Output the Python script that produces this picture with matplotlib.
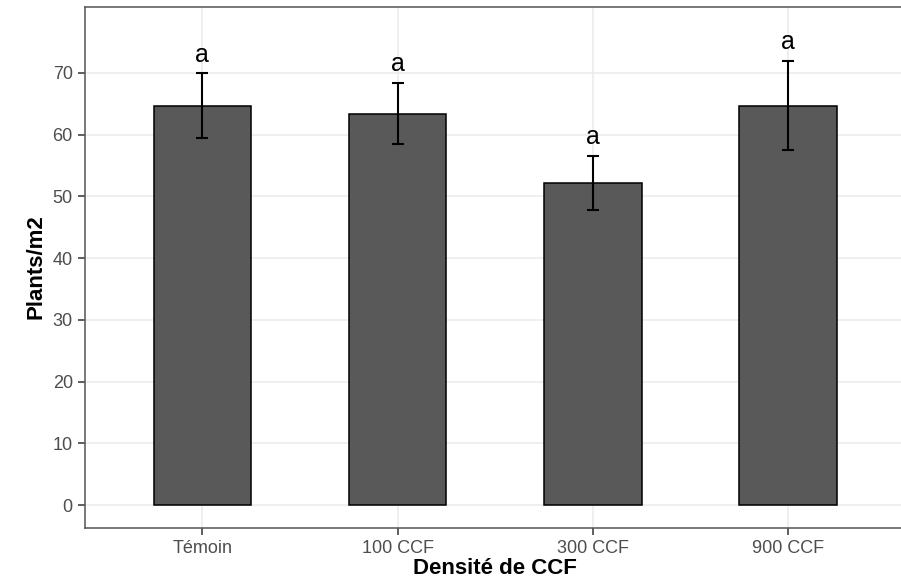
import matplotlib
matplotlib.use("Agg")
import matplotlib.pyplot as plt
import numpy as np

plt.rcParams['font.family'] = ['Liberation Sans', 'DejaVu Sans']

# Plant density per treatment (mean and standard error)
traitements = ["Témoin", "100 CCF", "300 CCF", "900 CCF"]
moyennes = [64.7, 63.4, 52.1, 64.7]
erreurs = [5.2, 5.0, 4.4, 7.2]
lettres = ["a", "a", "a", "a"]

W, H = 901, 585
fig = plt.figure(figsize=(W / 100, H / 100), dpi=100)
# panel runs slightly past the right edge of the figure
ax = fig.add_axes([85.3 / W, (H - 527.5) / H, (905 - 85.3) / W, (527.5 - 6.7) / H])

x = np.arange(1, len(traitements) + 1)
ax.bar(x, moyennes, width=0.5, color='#595959', edgecolor='black',
       linewidth=1.1, zorder=3)
ax.errorbar(x, moyennes, yerr=erreurs, fmt='none', ecolor='black',
            elinewidth=1.5, capsize=4, capthick=1.5, zorder=4)

for xi, m, e, l in zip(x, moyennes, erreurs, lettres):
    ax.text(xi, m + e + 1.9, l, ha='center', va='baseline', fontsize=18,
            color='black', zorder=5)

ax.set_xlim(0.4, 4.6)
ax.set_ylim(-3.64, 80.7)
ax.set_xticks(x)
ax.set_xticklabels(traitements)
ax.set_yticks(np.arange(0, 71, 10))

ax.grid(True, color='#EBEBEB', linewidth=1.1, zorder=0)
ax.set_axisbelow(True)
for s in ax.spines.values():
    s.set_color('#555555')
    s.set_linewidth(1.1)

ax.tick_params(axis='both', colors='#333333', length=5, width=1.1,
               labelsize=13, labelcolor='#4D4D4D', pad=4)

ax.set_xlabel("Densité de CCF", fontsize=16, fontweight='bold', labelpad=1)
ax.set_ylabel("Plants/m2", fontsize=16, fontweight='bold', labelpad=4)

fig.savefig("out.png", dpi=100)
